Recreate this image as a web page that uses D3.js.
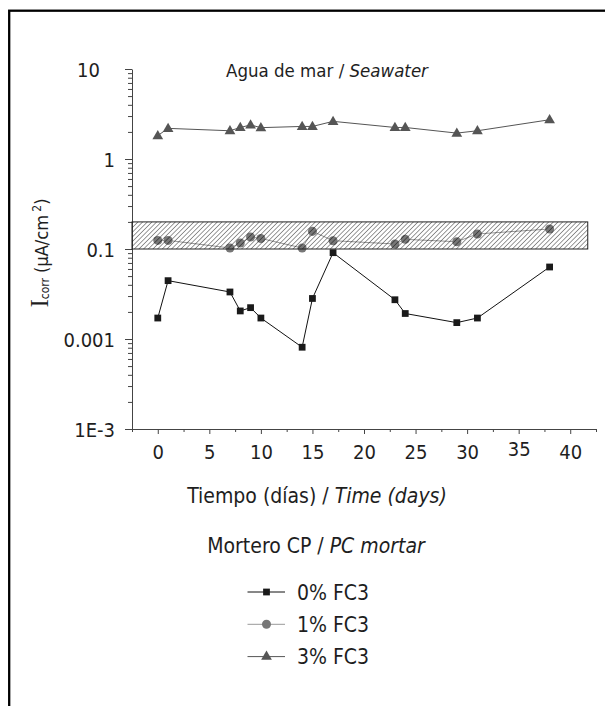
<!DOCTYPE html>
<html>
<head>
<meta charset="utf-8">
<script src="https://cdn.jsdelivr.net/npm/d3@7"></script>
<style>
  html, body { margin: 0; padding: 0; background: #fff; }
  svg { display: block; }
  .t { font-family: "DejaVu Sans Condensed", "DejaVu Sans", sans-serif; font-stretch: condensed; fill: #1e1e1e; }
</style>
</head>
<body>
<svg id="chart" width="605" height="706"></svg>
<script>
// ---- data ----
const days0 = [0, 1, 7, 8, 9, 10, 14, 15, 17, 23, 24, 29, 31, 38];
const fc3_0 = [0.0171, 0.0445, 0.0333, 0.0205, 0.0223, 0.0171, 0.0081, 0.0282, 0.091, 0.0273, 0.0192, 0.0152, 0.0171, 0.0631];
const fc3_1 = [0.1246, 0.1246, 0.1026, 0.1166, 0.136, 0.131, 0.1026, 0.157, 0.1237, 0.1137, 0.128, 0.1205, 0.147, 0.1668];
const fc3_3 = [1.82, 2.19, 2.06, 2.24, 2.39, 2.23, 2.30, 2.30, 2.62, 2.24, 2.24, 1.94, 2.06, 2.73];
const seriesNames = ["0% FC3", "1% FC3", "3% FC3"];
const xTicks = [0, 5, 10, 15, 20, 25, 30, 35, 40];
const yTicks = [0.001, 0.01, 0.1, 1, 10];
const yTickLabels = ["1E-3", "0.001", "0.1", "1", "10"];
const bandDays = [-2.5, 41.7];
const bandValues = [0.1, 0.2];
const titleText = "Agua de mar / ";
const titleItalic = "Seawater";
const xTitle = "Tiempo (días) / ";
const xTitleItalic = "Time (days)";
const legendTitle = "Mortero CP / ";
const legendTitleItalic = "PC mortar";

// ---- setup ----
const svg = d3.select("#chart");
const x = d3.scaleLinear().domain([-2.5, 42.5]).range([132, 596]);
const y = d3.scaleLog().domain([0.001, 10]).range([429, 69]);

// frame
svg.append("rect").attr("x", 9.2).attr("y", 10.7).attr("width", 800).attr("height", 900)
  .attr("fill", "none").attr("stroke", "#000").attr("stroke-width", 2.3);

// hatch pattern
const defs = svg.append("defs");
const pat = defs.append("pattern").attr("id", "hatch").attr("patternUnits", "userSpaceOnUse")
  .attr("width", 3.3).attr("height", 3.3).attr("patternTransform", "rotate(45)");
pat.append("line").attr("x1", 0).attr("y1", 0).attr("x2", 0).attr("y2", 3.3)
  .attr("stroke", "#000").attr("stroke-width", 1);

const axisColor = "#444";

// y axis
const yAxis = svg.append("g").attr("transform", `translate(${x(-2.5)},0)`)
  .call(d3.axisLeft(y).tickValues(yTicks).tickFormat((d, i) => yTickLabels[i]).tickSize(7).tickSizeOuter(0).tickPadding(10));
const yMinor = [];
[0.001, 0.01, 0.1, 1].forEach(b => { for (let k = 2; k <= 9; k++) yMinor.push(b * k); });
svg.append("g").attr("transform", `translate(${x(-2.5)},0)`)
  .call(d3.axisLeft(y).tickValues(yMinor).tickFormat("").tickSize(4).tickSizeOuter(0))
  .call(g => g.select(".domain").remove());

// x axis
const xAxis = svg.append("g").attr("transform", `translate(0,${y(0.001)})`)
  .call(d3.axisBottom(x).tickValues(xTicks).tickSize(5).tickSizeOuter(0).tickPadding(12));
svg.append("g").attr("transform", `translate(0,${y(0.001)})`)
  .call(d3.axisBottom(x).tickValues(d3.range(-2.5, 43, 5)).tickFormat("").tickSize(3).tickSizeOuter(0))
  .call(g => g.select(".domain").remove());

svg.selectAll(".domain, .tick line").attr("stroke", axisColor);
yAxis.selectAll("text").attr("class", "t").attr("font-size", 20).attr("dy", "0.36em")
  .attr("x", d => d === 10 ? -32 : -17);
xAxis.selectAll("text").attr("class", "t").attr("font-size", 20).attr("dy", "0")
  .attr("y", d => d === 35 ? 27 : 30);

// series
const lineGen = d3.line().x(d => x(d[0])).y(d => y(d[1]));
const s0 = days0.map((d, i) => [d, fc3_0[i]]);
const s1 = days0.map((d, i) => [d, fc3_1[i]]);
const s3 = days0.map((d, i) => [d, fc3_3[i]]);

svg.append("path").datum(s0).attr("d", lineGen).attr("fill", "none").attr("stroke", "#111").attr("stroke-width", 1);
svg.append("path").datum(s1).attr("d", lineGen).attr("fill", "none").attr("stroke", "#999").attr("stroke-width", 1);
svg.append("path").datum(s3).attr("d", lineGen).attr("fill", "none").attr("stroke", "#555").attr("stroke-width", 1);

const sq = d3.symbol().type(d3.symbolSquare).size(46);
const ci = d3.symbol().type(d3.symbolCircle).size(64);
const tr = d3.symbol().type(d3.symbolTriangle).size(50);

svg.append("g").selectAll("path").data(s0).join("path")
  .attr("transform", d => `translate(${x(d[0])},${y(d[1])})`).attr("d", sq).attr("fill", "#1a1a1a");
svg.append("g").selectAll("path").data(s1).join("path")
  .attr("transform", d => `translate(${x(d[0])},${y(d[1])})`).attr("d", ci).attr("fill", "#777");
svg.append("g").selectAll("path").data(s3).join("path")
  .attr("transform", d => `translate(${x(d[0])},${y(d[1]) + 0.5})`).attr("d", tr).attr("fill", "#555");

// hatched band (over markers)
svg.append("rect")
  .attr("x", x(bandDays[0])).attr("y", y(bandValues[1]))
  .attr("width", x(bandDays[1]) - x(bandDays[0])).attr("height", y(bandValues[0]) - y(bandValues[1]))
  .attr("fill", "url(#hatch)").attr("fill-opacity", 0.8).attr("stroke", "#222").attr("stroke-width", 1);

// title
const tt = svg.append("text").attr("class", "t").attr("font-size", 18.5).attr("x", 327).attr("y", 77).attr("text-anchor", "middle");
tt.append("tspan").text(titleText);
tt.append("tspan").attr("font-style", "italic").text(titleItalic);

// x title
const xt = svg.append("text").attr("class", "t").attr("font-size", 21).attr("x", 317).attr("y", 503).attr("text-anchor", "middle");
xt.append("tspan").text(xTitle);
xt.append("tspan").attr("font-style", "italic").text(xTitleItalic);

// y title
const yt = svg.append("text").attr("class", "t").attr("font-size", 18).attr("text-anchor", "middle")
  .attr("transform", "translate(48,253) rotate(-90)");
yt.append("tspan").attr("font-family", "Liberation Serif, serif").attr("font-size", 25).text("I");
yt.append("tspan").attr("font-size", 12).attr("dy", 1).text("corr");
yt.append("tspan").attr("dy", -1).text(" (µA/cm");
yt.append("tspan").attr("font-size", 12).attr("dy", -7).text(" 2");
yt.append("tspan").attr("dy", 7).text(")");

// legend
const lt = svg.append("text").attr("class", "t").attr("font-size", 21).attr("x", 316).attr("y", 553).attr("text-anchor", "middle");
lt.append("tspan").text(legendTitle);
lt.append("tspan").attr("font-style", "italic").text(legendTitleItalic);

const legendItems = [
  { name: seriesNames[0], sym: sq, fill: "#1a1a1a", stroke: "#111" },
  { name: seriesNames[1], sym: ci, fill: "#777", stroke: "#999" },
  { name: seriesNames[2], sym: tr, fill: "#555", stroke: "#555" }
];
const lg = svg.append("g");
legendItems.forEach((it, i) => {
  const cy = 592 + i * 32.3;
  lg.append("line").attr("x1", 247.5).attr("x2", 285).attr("y1", cy).attr("y2", cy).attr("stroke", it.stroke).attr("stroke-width", 1);
  lg.append("path").attr("d", it.sym).attr("transform", `translate(266.5,${cy})`).attr("fill", it.fill);
  lg.append("text").attr("class", "t").attr("font-size", 21).attr("x", 297).attr("y", cy + 7.5).text(it.name);
});
</script>
</body>
</html>
